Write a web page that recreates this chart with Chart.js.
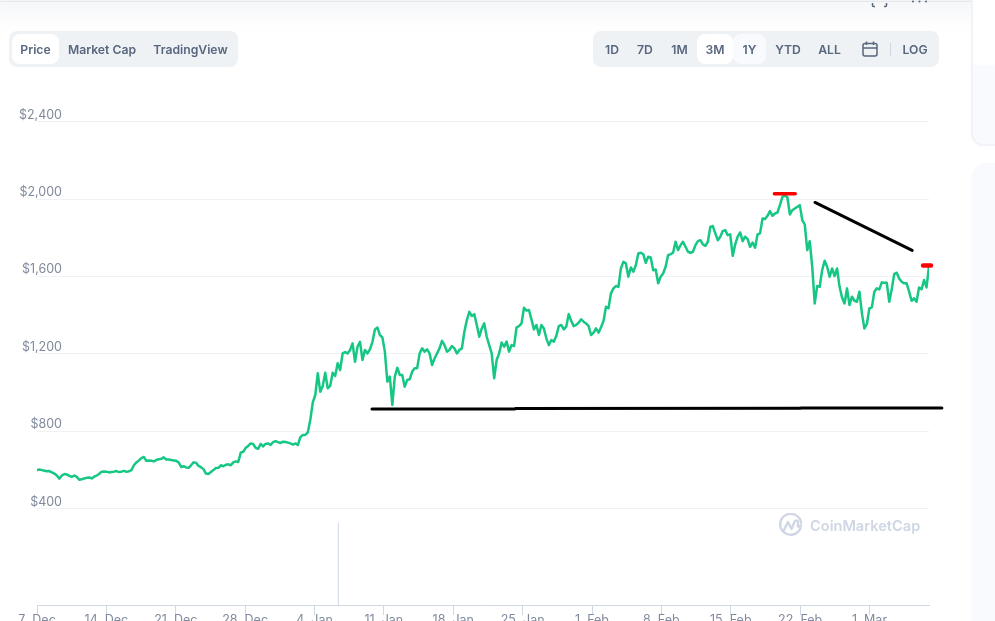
<!DOCTYPE html>
<html>
<head>
<meta charset="utf-8">
<title>Price chart</title>
<script src="https://cdn.jsdelivr.net/npm/chart.js@4/dist/chart.umd.min.js"></script>
<style>
    html, body { margin: 0; padding: 0; background: #fff; overflow: hidden; }
    body { width: 995px; height: 621px; position: relative; font-family: Inter, "Noto Sans", sans-serif; }
    canvas { position: absolute; left: 0; top: 0; }
    .topfade { position: absolute; left: 0; top: 2px; width: 995px; height: 28px; background: linear-gradient(#f6f7f9, #fff); box-shadow: 0 -1px 2px #d9dde3; }
    .side-card { position: absolute; left: 971px; top: -10px; width: 40px; height: 152px; border: 2px solid #f1f3f8; border-radius: 12px; background: linear-gradient(#fff 0, #fff 72px, #f8fafd 74px); }
    .side-panel { position: absolute; left: 971px; top: 163px; width: 40px; height: 470px; border-radius: 16px 0 0 0; background: #f8fafd; }
    .group { position: absolute; top: 31px; height: 36px; background: #eff2f5; border-radius: 8px; }
    .btn { position: absolute; top: 34px; height: 30px; line-height: 31px; text-align: center; font-size: 12.2px; font-weight: 600; color: #58667e; border-radius: 8px; white-space: nowrap; }
    .on { background: #fff; }
    .hover { background: #f8fafd; }
    .mark { position: absolute; left: 779px; top: 513px; }
    .brand { position: absolute; left: 810px; top: 515px; font-size: 14.6px; font-weight: 600; color: #cfd6e4; line-height: 22px; }
</style>
</head>
<body>
<div class="topfade"></div>
<div class="side-card"></div>
<div class="side-panel"></div>

<!-- window icons along the top edge -->
<svg style="position:absolute;left:868px;top:0" width="64" height="10" fill="none" stroke="#58667e" stroke-width="1.5">
    <path d="M4.5 3v2.5a1 1 0 0 0 1 1h1.5M18.5 3v2.5a1 1 0 0 1-1 1h-1.5"/>
    <circle cx="45" cy="1.5" r="1" fill="#58667e" stroke="none"/>
    <circle cx="51.5" cy="1.5" r="1" fill="#58667e" stroke="none"/>
    <circle cx="58" cy="1.5" r="1" fill="#58667e" stroke="none"/>
</svg>

<canvas id="chart" width="995" height="621"></canvas>

<div class="group" style="left:9px;width:229px"></div>
<div class="btn on" style="left:12px;width:47px">Price</div>
<div class="btn" style="left:59px;width:86px">Market Cap</div>
<div class="btn" style="left:145px;width:91px">TradingView</div>

<div class="group" style="left:593px;width:346px"></div>
<div class="btn" style="left:595px;width:34px">1D</div>
<div class="btn" style="left:628px;width:34px">7D</div>
<div class="btn" style="left:662px;width:35px">1M</div>
<div class="btn on" style="left:697px;width:36px">3M</div>
<div class="btn hover" style="left:733px;width:33px">1Y</div>
<div class="btn" style="left:768px;width:40px">YTD</div>
<div class="btn" style="left:810px;width:39px">ALL</div>
<svg style="position:absolute;left:862px;top:41px" width="16" height="16" fill="none" stroke="#58667e" stroke-width="1.5">
    <rect x="1" y="2.5" width="14" height="12.5" rx="2"/>
    <path d="M1 7h14M4.5 0.5v3.5M11.5 0.5v3.5"/>
</svg>
<div style="position:absolute;left:890px;top:43px;width:1px;height:13px;background:#cfd6e4"></div>
<div class="btn" style="left:895px;width:40px">LOG</div>

<svg class="mark" width="24" height="24" fill="none" stroke="#cfd6e4" stroke-width="2.4" stroke-linecap="round" stroke-linejoin="round">
    <path d="M21.5 15a10.5 10.5 0 1 1 .6-5"/>
    <path d="M5 17l4-8 3.5 7 3-7c1.2-2.5 3.5-2 3.5 1v3.5c1.2 0 2.3-.4 3.2-1"/>
</svg>
<div class="brand">CoinMarketCap</div>

<script>
// closing prices, four readings a day, one array per week
const week1 = [601, 603, 600, 597, 594, 595, 588, 582, 572, 556, 572, 580, 578, 570, 565, 572, 565, 550, 553, 557, 560, 562, 557, 566, 572, 580, 592, 593];
const week2 = [592, 588, 590, 592, 595, 590, 592, 596, 591, 594, 600, 625, 640, 650, 662, 668, 648, 650, 648, 645, 652, 656, 658, 666, 655, 655, 652, 650];
const week3 = [648, 640, 616, 620, 614, 612, 625, 640, 638, 622, 615, 605, 582, 580, 590, 600, 611, 612, 625, 620, 628, 630, 625, 640, 645, 642, 690, 695];
const week4 = [715, 725, 738, 735, 715, 710, 735, 722, 735, 738, 730, 745, 750, 745, 740, 747, 745, 742, 738, 732, 738, 730, 770, 782, 782, 795, 860, 950];
const week5 = [988, 1100, 1005, 1035, 1103, 1023, 1035, 1103, 1086, 1152, 1117, 1203, 1210, 1203, 1220, 1255, 1160, 1238, 1263, 1169, 1221, 1203, 1224, 1263, 1327, 1337, 1298, 1286];
const week6 = [1212, 1057, 1083, 937, 1083, 1129, 1092, 1092, 1031, 1066, 1069, 1109, 1126, 1126, 1203, 1229, 1212, 1224, 1203, 1143, 1177, 1203, 1229, 1268, 1246, 1212, 1221, 1241];
const week7 = [1229, 1203, 1221, 1229, 1315, 1375, 1418, 1396, 1406, 1350, 1289, 1332, 1358, 1289, 1246, 1203, 1074, 1169, 1203, 1259, 1238, 1264, 1212, 1246, 1241, 1338, 1344, 1358];
const week8 = [1439, 1424, 1427, 1379, 1327, 1350, 1298, 1350, 1332, 1281, 1246, 1272, 1264, 1293, 1344, 1350, 1327, 1341, 1406, 1372, 1344, 1350, 1362, 1379, 1367, 1358, 1344, 1298];
const week9 = [1310, 1332, 1310, 1338, 1370, 1444, 1436, 1513, 1539, 1551, 1547, 1642, 1676, 1668, 1599, 1647, 1625, 1659, 1719, 1723, 1716, 1671, 1702, 1699, 1633, 1637, 1565, 1599];
const week10 = [1616, 1651, 1711, 1716, 1723, 1780, 1737, 1762, 1780, 1754, 1728, 1723, 1728, 1762, 1783, 1788, 1766, 1759, 1780, 1857, 1861, 1823, 1788, 1806, 1835, 1840, 1814, 1818];
const week11 = [1707, 1766, 1806, 1828, 1783, 1806, 1793, 1754, 1776, 1749, 1818, 1823, 1900, 1897, 1914, 1938, 1914, 1926, 1931, 1969, 2012, 2018, 2010, 1921, 1943, 1952, 1960, 1969];
const week12 = [1892, 1869, 1737, 1783, 1651, 1461, 1551, 1547, 1633, 1682, 1651, 1599, 1642, 1602, 1642, 1547, 1492, 1461, 1539, 1453, 1496, 1475, 1470, 1522, 1410, 1332, 1355, 1436];
const week13 = [1441, 1522, 1539, 1534, 1570, 1568, 1568, 1470, 1534, 1613, 1620, 1590, 1573, 1565, 1565, 1522, 1475, 1487, 1470, 1544, 1534, 1582, 1544, 1654];

const tickDays = [0, 7, 14, 21, 28, 35, 42, 49, 56, 63, 70, 77, 84];
const tickLabels = ["7  Dec", "14  Dec", "21  Dec", "28  Dec", "4  Jan", "11  Jan", "18  Jan", "25  Jan", "1  Feb", "8  Feb", "15  Feb", "22  Feb", "1  Mar"];
const priceTicks = [400, 800, 1200, 1600, 2000, 2400];

// the one tall volume bar, and the lines sketched on top of the chart
const volumeBar = [[30.4, -97], [30.4, 328]];
const supportLine = [[33.8, 916], [48.2, 916], [48.3, 918], [77, 919], [77.1, 921], [91.3, 921]];
const trendLine = [[78.5, 1983], [88.3, 1735]];
const topMark = [[74.4, 2028], [76.5, 2028]];
const lastMark = [[89.4, 1657], [90.2, 1657]];

const prices = [week1, week2, week3, week4, week5, week6, week7, week8, week9, week10, week11, week12, week13].flat();
const pricePoints = prices.map((p, i) => ({ x: i * 90 / (prices.length - 1), y: p }));

function toPoints(pairs) {
    return pairs.map(p => ({ x: p[0], y: p[1] }));
}

function sketch(pairs, color, width) {
    return {
        data: toPoints(pairs),
        borderColor: color,
        borderWidth: width,
        borderCapStyle: "round",
        pointRadius: 0,
        clip: false
    };
}

new Chart("chart", {
    type: "line",
    data: {
        datasets: [
            sketch(topMark, "#ff0000", 3.5),
            sketch(lastMark, "#ff0000", 4.5),
            sketch(supportLine, "#000000", 3),
            sketch(trendLine, "#000000", 3),
            {
                data: pricePoints,
                borderColor: "#16c784",
                borderWidth: 2.5,
                borderJoinStyle: "round",
                pointRadius: 0
            },
            {
                data: toPoints(volumeBar),
                borderColor: "#cfd6e4",
                borderWidth: 1,
                pointRadius: 0
            }
        ]
    },
    options: {
        responsive: false,
        animation: false,
        layout: { padding: { top: 84, right: 66, left: 0, bottom: 0 } },
        plugins: { legend: { display: false }, tooltip: { enabled: false } },
        scales: {
            x: {
                type: "linear",
                min: 0,
                max: 90,
                afterBuildTicks: axis => { axis.ticks = tickDays.map(d => ({ value: d })); },
                afterFit: axis => { axis.height = 16; },
                grid: { drawOnChartArea: false, tickLength: 10, tickColor: "#cfd6e4" },
                border: { color: "#cfd6e4" },
                ticks: {
                    autoSkip: false,
                    maxRotation: 0,
                    padding: -2,
                    color: "#808a9d",
                    font: { family: "Inter", size: 12.5 },
                    callback: (value) => tickLabels[tickDays.indexOf(value)]
                }
            },
            y: {
                min: -97,
                max: 2595,
                afterBuildTicks: axis => { axis.ticks = priceTicks.map(v => ({ value: v })); },
                afterFit: axis => {
                    axis.width = 37;
                    // labels sit over the start of the grid lines, so the axis box must not clip them
                    axis._computeLabelArea = () => null;
                },
                grid: { color: "#eff2f5", drawTicks: false },
                border: { display: false },
                ticks: {
                    autoSkip: false,
                    padding: -25,
                    labelOffset: -7,
                    color: "#808a9d",
                    font: { family: "Inter", size: 12.5 },
                    callback: value => "$" + value.toLocaleString("en-US")
                }
            }
        }
    }
});
</script>
</body>
</html>
